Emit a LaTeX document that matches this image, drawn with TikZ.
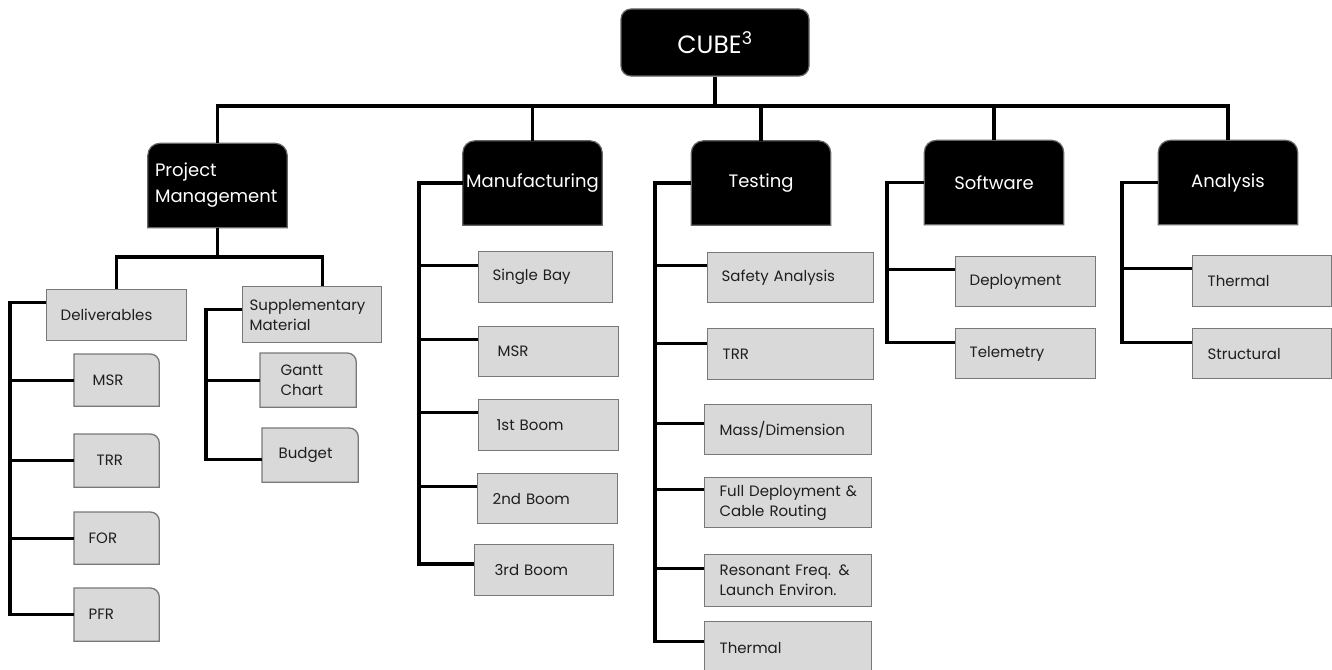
\documentclass[tikz,border=0pt]{standalone}
\usepackage{fontspec}
\setmainfont{Poppins}
\usetikzlibrary{backgrounds}

\definecolor{leaffill}{HTML}{D9D9D9}
\definecolor{leafline}{HTML}{787878}
\definecolor{leaftext}{HTML}{1E1E1E}

\tikzset{
  link/.style={line width=3.2pt},
  head/.style={draw=black!60, fill=black, text=white, line width=1.2pt, rounded corners=10pt,
    minimum width=188pt, minimum height=67pt, font=\fontsize{25}{30}\selectfont},
  cat/.style={text=white, minimum width=139pt, minimum height=84pt, inner sep=0pt,
    font=\fontsize{18}{26}\selectfont},
  catbox/.style={draw=black!60, fill=black, line width=1.2pt},
  leaf/.style={anchor=north west, draw=leafline, fill=leaffill, line width=1.3pt, text=leaftext,
    font=\fontsize{15}{20}\selectfont, align=left, inner xsep=14pt, inner ysep=0pt,
    minimum height=51pt, text width=#1},
  tab/.style={leaf=#1, draw=none, fill=none},
  tabbox/.style={draw=leafline, fill=leaffill, line width=1.3pt}
}

\begin{document}
\begin{tikzpicture}[x=1pt, y=1pt]
  \useasboundingbox (0,0) rectangle (1332,-669);

  % top and work packages
  \node[head] (cube) at (715,-42.5) {CUBE\textsuperscript{3}};
  \node[cat, text width=125pt, align=left] (pm) at (217.5,-185.5) {Project\\Management};
  \node[cat] (mfg) at (532.5,-183) {Manufacturing};
  \node[cat] (tst) at (761,-183) {Testing};
  \node[cat] (sw) at (994,-182.5) {Software};
  \node[cat] (ana) at (1228,-182.5) {Analysis};

  % project management
  \node[leaf=112pt] (dlv) at (46,-289) {Deliverables};
  \node[leaf=125pt, inner xsep=7pt, minimum height=56pt] (supp) at (242,-286) {Supplementary\\Material};
  \node[tab=48pt, inner xsep=18pt] (msrd) at (74,-354) {MSR};
  \node[tab=40pt, inner xsep=22pt, minimum height=52pt] (trrd) at (74,-434) {TRR};
  \node[tab=56pt] (ford) at (74,-512) {FOR};
  \node[tab=56pt, minimum height=52pt] (pfrd) at (74,-588) {PFR};
  \node[tab=55pt, inner xsep=20pt, minimum height=53pt] (gantt) at (260,-353) {Gantt\\Chart};
  \node[tab=63pt, inner xsep=16pt, minimum height=53pt] (budget) at (262,-428) {Budget};

  % manufacturing
  \node[leaf=106pt] (bay) at (478,-251) {Single Bay};
  \node[leaf=102pt, inner xsep=19pt, minimum height=50pt] (msr2) at (478,-326) {MSR};
  \node[leaf=104pt, inner xsep=18pt] (boom1) at (478,-399) {1st Boom};
  \node[leaf=110pt, inner xsep=15pt, minimum height=50pt] (boom2) at (477,-473) {2nd Boom};
  \node[leaf=99pt, inner xsep=20pt] (boom3) at (474,-544) {3rd Boom};

  % testing
  \node[leaf=138pt, minimum height=50pt] (safety) at (707,-252) {Safety Analysis};
  \node[leaf=136pt, inner xsep=15pt] (trr2) at (707,-328) {TRR};
  \node[leaf=137pt, inner xsep=15pt, minimum height=50pt] (mass) at (704,-404) {Mass/Dimension};
  \node[leaf=137pt, inner xsep=15pt, minimum height=50pt] (full) at (704,-477) {\mbox{Full Deployment \&}\\Cable Routing};
  \node[leaf=137pt, inner xsep=15pt, minimum height=52pt] (reso) at (704,-554) {Resonant Freq. \&\\Launch Environ.};
  \node[leaf=137pt, inner xsep=15pt, minimum height=52pt] (therm1) at (704,-621) {Thermal};

  % software
  \node[leaf=112pt, minimum height=50pt] (deploy) at (955,-256) {Deployment};
  \node[leaf=112pt, minimum height=50pt] (telem) at (955,-328) {Telemetry};

  % analysis
  \node[leaf=109pt, inner xsep=15pt] (therm2) at (1192,-255) {Thermal};
  \node[leaf=109pt, inner xsep=15pt, minimum height=50pt] (struct) at (1192,-328) {Structural};

  % boxes with rounded top corners
  \begin{scope}[on background layer]
    \foreach \n in {pm,mfg,tst,sw,ana}
      \filldraw[catbox] (\n.south west) -- ([yshift=-12pt]\n.north west)
        arc[start angle=180, end angle=90, radius=12pt] -- ([xshift=-12pt]\n.north east)
        arc[start angle=90, end angle=0, radius=12pt] -- (\n.south east) -- cycle;
    \foreach \n in {msrd,trrd,ford,pfrd,gantt,budget}
      \filldraw[tabbox] (\n.south west) -- (\n.north west) -- ([xshift=-9pt]\n.north east)
        arc[start angle=90, end angle=0, radius=9pt] -- (\n.south east) -- cycle;
  \end{scope}

  % tree lines
  \coordinate (bus) at (0,-106);
  \draw[link] (pm.north) -- (pm.north |- bus) -- (ana.north |- bus) -- (ana.north);
  \draw[link] (cube.south) -- (cube.south |- bus);
  \foreach \n in {mfg,tst,sw}
    \draw[link] (\n.north) -- (\n.north |- bus);

  \coordinate (pmfork) at (0,-257);
  \coordinate (suppin) at ([xshift=10pt]supp.north);
  \draw[link] (pm.south) -- (pm.south |- pmfork);
  \draw[link] (dlv.north) -- (dlv.north |- pmfork) -- (suppin |- pmfork) -- (suppin);

  \coordinate (dlvrail) at (10,0);
  \draw[link] (dlv.170) -- (dlv.170 -| dlvrail) -- (pfrd.west -| dlvrail) -- (pfrd.west);
  \foreach \n in {msrd,trrd,ford}
    \draw[link] (\n.west -| dlvrail) -- (\n.west);

  \coordinate (supprail) at (206,0);
  \draw[link] (supp.176) -- (supp.176 -| supprail) -- (budget.185 -| supprail) -- (budget.185);
  \draw[link] (gantt.west -| supprail) -- (gantt.west);

  \coordinate (mfgrail) at (419,0);
  \draw[link] (mfg.west) -- (mfg.west -| mfgrail) -- (boom3.175 -| mfgrail) -- (boom3.175);
  \foreach \n in {bay,msr2,boom1,boom2}
    \draw[link] (\n.170 -| mfgrail) -- (\n.170);

  \coordinate (tstrail) at (655,0);
  \draw[link] (tst.west) -- (tst.west -| tstrail) -- (therm1.176 -| tstrail) -- (therm1.176);
  \foreach \n/\a in {safety/172,trr2/173,mass/176,full/171,reso/172}
    \draw[link] (\n.\a -| tstrail) -- (\n.\a);

  \coordinate (swrail) at (887,0);
  \draw[link] (sw.west) -- (sw.west -| swrail) -- (telem.171 -| swrail) -- (telem.171);
  \draw[link] (deploy.170 -| swrail) -- (deploy.170);

  \coordinate (anarail) at (1122,0);
  \draw[link] (ana.west) -- (ana.west -| anarail) -- (struct.171 -| anarail) -- (struct.171);
  \draw[link] (therm2.170 -| anarail) -- (therm2.170);
\end{tikzpicture}
\end{document}
